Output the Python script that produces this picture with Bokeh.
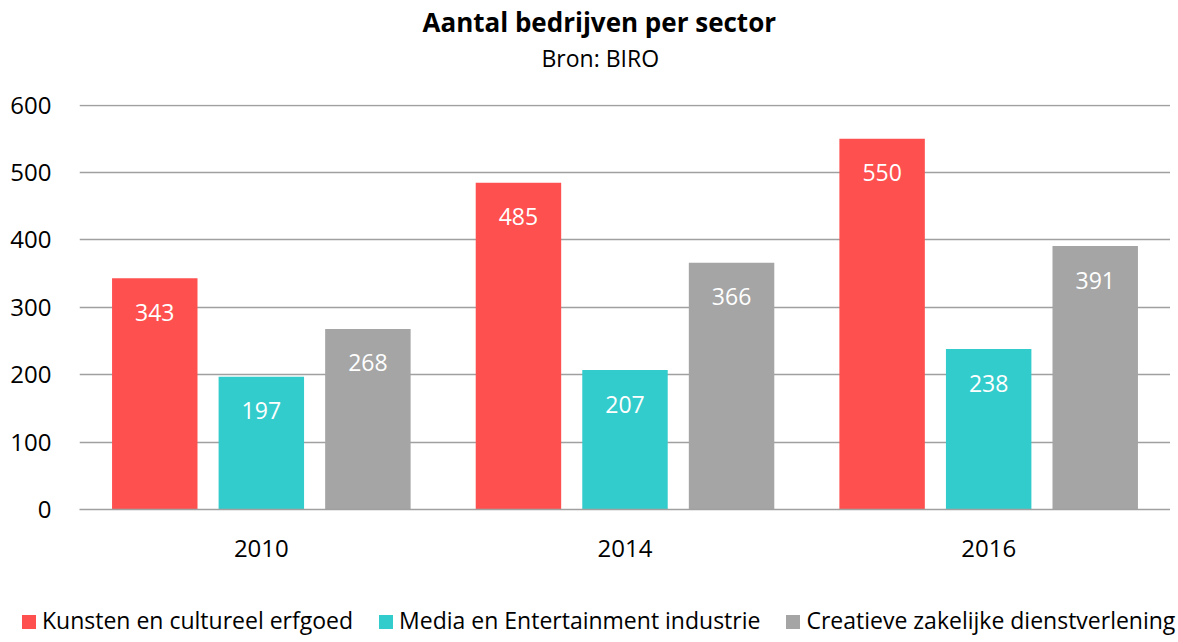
from bokeh.plotting import figure
from bokeh.models import (FactorRange, Range1d, Title, ColumnDataSource,
                          FixedTicker, Div)
from bokeh.layouts import column
from bokeh.transform import dodge
from bokeh.core.properties import value
from bokeh.embed import file_html
from bokeh.resources import INLINE

years = ["2010", "2014", "2016"]
series_names = ["Kunsten en cultureel erfgoed",
                "Media en Entertainment industrie",
                "Creatieve zakelijke dienstverlening"]
kunsten = [343, 485, 550]
media = [197, 207, 238]
creatief = [268, 366, 391]
colors = ["#FF5050", "#33CCCC", "#A5A5A5"]
y_ticks = [0, 100, 200, 300, 400, 500, 600]

FONT = "Open Sans"

src = ColumnDataSource(data=dict(
    year=years, k=kunsten, m=media, c=creatief,
    kl=[str(v) for v in kunsten], ml=[str(v) for v in media], cl=[str(v) for v in creatief],
))

p = figure(x_range=FactorRange(*years), y_range=Range1d(0, 601),
           width=1170, height=606, output_backend="svg", toolbar_location=None,
           title=None, min_border_left=79, min_border_right=0,
           min_border_top=104, min_border_bottom=97)
p.outline_line_color = None
p.background_fill_color = "white"

# titles stacked from the frame upward: spacer, subtitle, main title
spacer = Title(text=" ", text_font_size="1px", standoff=28)
sub = Title(text="Bron: BIRO", align="left", offset=462, text_font=FONT,
            text_font_size="23px", text_font_style="normal", text_color="#000000",
            standoff=0)
main = Title(text="Aantal bedrijven per sector", align="left", offset=343,
             text_font=FONT, text_font_size="26px", text_font_style="bold",
             text_color="#000000", standoff=0)
p.add_layout(spacer, "above")
p.add_layout(sub, "above")
p.add_layout(main, "above")

offsets = [-0.293, 0.0, 0.293]
cols = ["k", "m", "c"]
lcols = ["kl", "ml", "cl"]
for off, col, lcol, color in zip(offsets, cols, lcols, colors):
    p.vbar(x=dodge("year", off, range=p.x_range), top=col, width=0.235,
           source=src, fill_color=color, line_color=None)
    p.text(x=dodge("year", off, range=p.x_range), y=col, text=lcol, source=src,
           text_align="center", text_baseline="middle", y_offset=34,
           text_color="white", text_font=value(FONT), text_font_size="23px")

p.yaxis.ticker = FixedTicker(ticks=y_ticks)
p.yaxis.axis_line_color = None
p.yaxis.major_tick_line_color = None
p.yaxis.minor_tick_line_color = None
p.yaxis.major_label_text_font = FONT
p.yaxis.major_label_text_font_size = "24px"
p.yaxis.major_label_text_color = "#000000"
p.yaxis.major_label_standoff = 22

p.xaxis.axis_line_color = "#a0a0a0"
p.xaxis.axis_line_width = 1.5
p.xaxis.major_tick_line_color = None
p.xaxis.minor_tick_line_color = None
p.xaxis.major_label_text_font = FONT
p.xaxis.major_label_text_font_size = "24px"
p.xaxis.major_label_text_color = "#000000"
p.xaxis.major_label_standoff = 24

p.xgrid.grid_line_color = None
p.ygrid.grid_line_color = "#a0a0a0"
p.ygrid.grid_line_width = 1.5

# legend row below the chart
items_html = "".join(
    f'<span style="display:inline-flex;align-items:center;margin-right:26px;">'
    f'<span style="display:inline-block;width:14px;height:14px;background:{c};'
    f'margin-right:6px;margin-top:4px;"></span>{n}</span>'
    for n, c in zip(series_names, colors)
)
legend_div = Div(
    text=f'<div style="display:flex;align-items:center;white-space:nowrap;'
         f'font-family:\'{FONT}\';font-size:23px;color:#000;line-height:28px;'
         f'padding-left:22px;">{items_html}</div>',
    width=1170, height=28, margin=0)

layout = column(p, legend_div, spacing=0)
open("out.html", "w").write(file_html(layout, INLINE))
